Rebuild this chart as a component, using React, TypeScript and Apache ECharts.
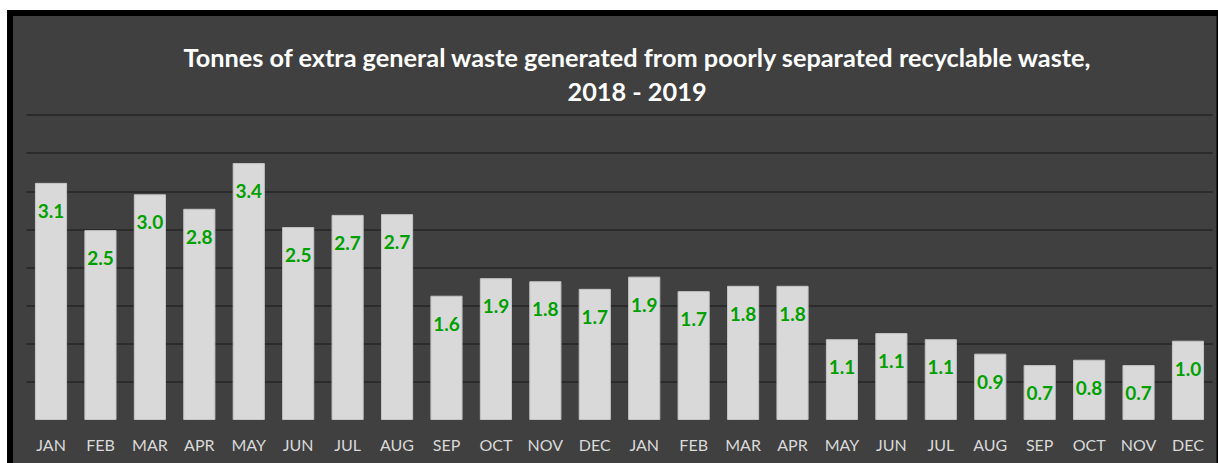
import React, { useEffect, useRef } from "react";
import * as echarts from "echarts";

const months = ["JAN","FEB","MAR","APR","MAY","JUN","JUL","AUG","SEP","OCT","NOV","DEC","JAN","FEB","MAR","APR","MAY","JUN","JUL","AUG","SEP","OCT","NOV","DEC"];
const tonnes = [3.11, 2.49, 2.96, 2.77, 3.37, 2.53, 2.69, 2.70, 1.63, 1.86, 1.82, 1.72, 1.88, 1.69, 1.76, 1.76, 1.06, 1.14, 1.06, 0.87, 0.72, 0.79, 0.72, 1.04];
const titleText = "Tonnes of extra general waste generated from poorly separated recyclable waste,\n2018 - 2019";

export default function App() {
  const ref = useRef<HTMLDivElement>(null);
  useEffect(() => {
    if (!ref.current) return;
    const chart = echarts.init(ref.current, undefined, { renderer: "svg" });
    chart.setOption({
      animation: false,
      backgroundColor: "#ffffff",
      graphic: [
        { type: "rect", z: -10, silent: true, shape: { x: 7, y: 10, width: 1212, height: 460 }, style: { fill: "#000000" } },
        { type: "rect", z: -9, silent: true, shape: { x: 13, y: 16, width: 1203.5, height: 460 }, style: { fill: "#404040" } },
      ],
      title: {
        text: titleText,
        left: 632,
        textAlign: "center",
        top: 35,
        textStyle: { color: "#ffffff", fontFamily: "Lato", fontWeight: "bold", fontSize: 25.3, lineHeight: 34 },
      },
      grid: { left: 26.3, right: 5.3, top: 115, bottom: 43 },
      xAxis: {
        type: "category",
        data: months,
        axisLine: { show: false },
        axisTick: { show: false },
        axisLabel: { color: "#d9d9d9", fontFamily: "Lato", fontSize: 16, margin: 16 },
      },
      yAxis: {
        type: "value",
        min: 0,
        max: 4,
        interval: 0.5,
        axisLabel: { show: false },
        axisLine: { show: false },
        axisTick: { show: false },
        splitLine: { show: true, showMinLine: false, lineStyle: { color: "#2b2b2b", width: 2 } },
      },
      series: [
        {
          type: "bar",
          data: tonnes,
          barWidth: "65%",
          itemStyle: { color: "#d9d9d9", borderColor: "#c4c4c4", borderWidth: 1 },
          label: {
            show: true,
            position: "insideTop",
            distance: 18,
            color: "#00a000",
            fontFamily: "Lato",
            fontWeight: "bold",
            fontSize: 19,
            formatter: (p: any) => Number(p.value).toFixed(1),
          },
        },
      ],
    });
    return () => chart.dispose();
  }, []);
  return <div ref={ref} style={{ position: "fixed", left: 0, top: 0, width: 1218, height: 463 }} />;
}
